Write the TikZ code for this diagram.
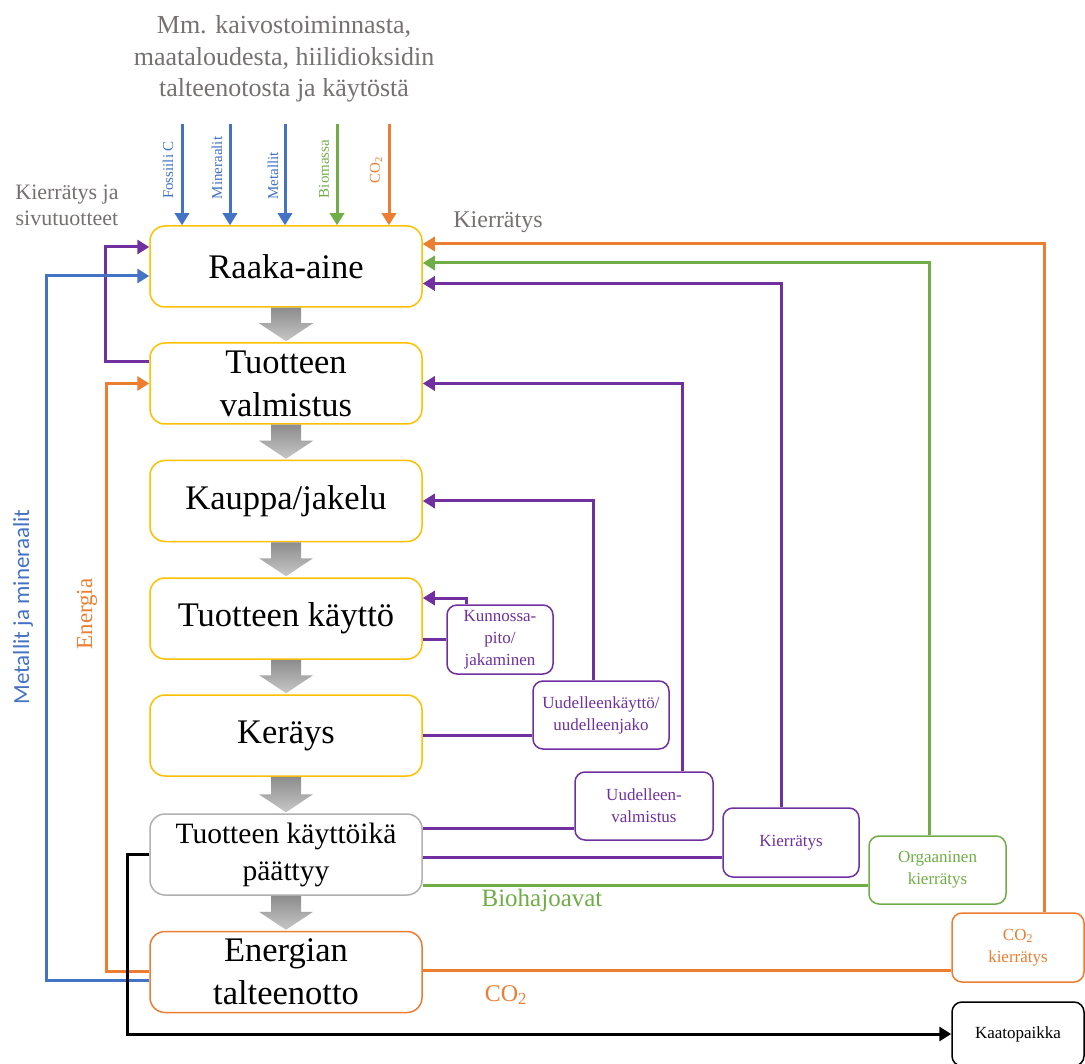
\documentclass[tikz,border=0pt]{standalone}
\usepackage{fontspec}
\setmainfont{Liberation Serif}
\newfontfamily\calibfont{Carlito}
\usetikzlibrary{arrows.meta}

\definecolor{cblue}{HTML}{4472C4}
\definecolor{corange}{HTML}{ED7D31}
\definecolor{cgreen}{HTML}{70AD47}
\definecolor{cpurple}{HTML}{7030A0}
\definecolor{cgold}{HTML}{FFC000}
\definecolor{cgraytext}{HTML}{767171}
\definecolor{cgrayline}{HTML}{B0B0B0}

\tikzset{
  mainbox/.style={draw=cgold, line width=1.5pt, rounded corners=15pt, fill=white,
    minimum width=272pt, minimum height=81pt, align=center, inner sep=0pt,
    font=\fontsize{34.5}{43}\selectfont},
  sidebox/.style={line width=1.5pt, rounded corners=10pt, fill=white,
    align=center, inner sep=0pt, minimum height=69pt,
    font=\fontsize{17}{22}\selectfont},
  flow/.style={line width=3pt},
  tipped/.style={-{Triangle[length=12pt,width=14pt]}},
  inlabel/.style={rotate=90, inner sep=0pt, font=\fontsize{15}{15}\selectfont},
  graytxt/.style={text=cgraytext, align=center, inner sep=0pt},
}

% gray block arrow between two stacked boxes
\newcommand{\downblock}[2]{%
  \shade[top color=black!45, bottom color=black!22]
    ([xshift=-15pt]#1.south) -- ([xshift=15pt]#1.south)
    -- ([xshift=15pt,yshift=19pt]#2.north) -- ([xshift=27pt,yshift=19pt]#2.north)
    -- ([yshift=1pt]#2.north)
    -- ([xshift=-27pt,yshift=19pt]#2.north) -- ([xshift=-15pt,yshift=19pt]#2.north)
    -- cycle;}

\begin{document}
\begin{tikzpicture}[x=1pt,y=-1pt]
\clip (0,0) rectangle (1085,1064);
\fill[white] (0,0) rectangle (1085,1064);

% main chain
\node[mainbox] (raaka) at (286,266.5) {Raaka-aine};
\node[mainbox] (valm) at (286,383.5) {Tuotteen\\valmistus};
\node[mainbox] (kauppa) at (286,501) {Kauppa/jakelu};
\node[mainbox] (kaytto) at (286,618.5) {Tuotteen käyttö};
\node[mainbox] (keray) at (286,735.5) {Keräys};
\node[mainbox, draw=cgrayline, font=\fontsize{29.5}{37}\selectfont] (paat) at (286,854.5) {Tuotteen käyttöikä\\päättyy};
\node[mainbox, draw=corange] (energ) at (286,972) {Energian\\talteenotto};

\downblock{raaka}{valm}
\downblock{valm}{kauppa}
\downblock{kauppa}{kaytto}
\downblock{kaytto}{keray}
\downblock{keray}{paat}
\downblock{paat}{energ}

% side boxes
\node[sidebox, draw=cpurple, text=cpurple, minimum width=106pt] (kp) at (500,639.5) {Kunnossa-\\pito/\\jakaminen};
\node[sidebox, draw=cpurple, text=cpurple, minimum width=136pt, minimum height=68pt] (uk) at (601,715) {Uudelleenkäyttö/\\uudelleenjako};
\node[sidebox, draw=cpurple, text=cpurple, minimum width=138pt, minimum height=68pt] (uv) at (644,806) {Uudelleen-\\valmistus};
\node[sidebox, draw=cpurple, text=cpurple, minimum width=136pt] (kierr) at (791,842.5) {Kierrätys};
\node[sidebox, draw=cgreen, text=cgreen, minimum width=137pt, minimum height=68pt] (org) at (937.5,870) {Orgaaninen\\kierrätys};
\node[sidebox, draw=corange, text=corange, minimum width=132pt] (co2k) at (1018,947.5) {CO\textsubscript{2}\\kierrätys};
\node[sidebox, draw=black, text=black, minimum width=132pt, minimum height=64pt] (kaato) at (1018,1034) {Kaatopaikka};

% source text and inputs
\node[graytxt, font=\fontsize{26}{31.5}\selectfont] (src) at (284,59) {Mm. kaivostoiminnasta,\\maataloudesta, hiilidioksidin\\talteenotosta ja käytöstä};
\node[graytxt, font=\fontsize{22}{26}\selectfont] (sivu) at (67,205) {Kierrätys ja\\sivutuotteet};
\node[graytxt, font=\fontsize{24}{24}\selectfont] (kierrlab) at (498,222) {Kierrätys};

\coordinate (in1) at (182,124);
\coordinate (in2) at (230,124);
\coordinate (in3) at (285,124);
\coordinate (in4) at (337,124);
\coordinate (in5) at (389,124);
\draw[flow, cblue, tipped] (in1) -- (in1 |- raaka.north);
\draw[flow, cblue, tipped] (in2) -- (in2 |- raaka.north);
\draw[flow, cblue, tipped] (in3) -- (in3 |- raaka.north);
\draw[flow, cgreen, tipped] (in4) -- (in4 |- raaka.north);
\draw[flow, corange, tipped] (in5) -- (in5 |- raaka.north);
\node[inlabel, text=cblue] (l1) at (168,170) {Fossiili C};
\node[inlabel, text=cblue] (l2) at (217,168) {Mineraalit};
\node[inlabel, text=cblue] (l3) at (273,176) {Metallit};
\node[inlabel, text=cgreen] (l4) at (324,169) {Biomassa};
\node[inlabel, text=corange] (l5) at (376,170) {CO\textsubscript{2}};

% loops back from the side boxes
\draw[flow, cpurple] ([yshift=-21pt]kaytto.east) -- (kp.west);
\draw[flow, cpurple, tipped] ([xshift=-34pt]kp.north) |- ([yshift=20.5pt]kaytto.east);

\draw[flow, cpurple] (keray.east) -- (keray.east -| uk.west);
\draw[flow, cpurple, tipped] ([xshift=-8pt]uk.north) |- (kauppa.east);

\draw[flow, cpurple] ([yshift=26.5pt]paat.east) -- ([yshift=26.5pt]paat.east -| uv.west);
\draw[flow, cpurple, tipped] ([xshift=38pt]uv.north) |- (valm.east);

\draw[flow, cpurple] ([yshift=-2.5pt]paat.east) -- ([yshift=-2.5pt]paat.east -| kierr.west);
\draw[flow, cpurple, tipped] ([xshift=-10pt]kierr.north) |- ([yshift=-17pt]raaka.east);

\draw[flow, cgreen] ([yshift=-30.5pt]paat.east) -- ([yshift=-30.5pt]paat.east -| org.west);
\draw[flow, cgreen, tipped] ([xshift=-8.5pt]org.north) |- ([yshift=3.5pt]raaka.east);

\draw[flow, corange] ([yshift=1.5pt]energ.east) -- ([yshift=1.5pt]energ.east -| co2k.west);
\draw[flow, corange, tipped] ([xshift=26pt]co2k.north) |- ([yshift=22.5pt]raaka.east);

\node[text=cgreen, inner sep=0pt, font=\fontsize{25}{25}\selectfont] (bio) at (542,900) {Biohajoavat};
\node[text=corange, inner sep=0pt, font=\fontsize{24}{24}\selectfont] (co2lab) at (506,995) {CO\textsubscript{2}};

% left side returns
\draw[flow, cpurple, tipped] ([yshift=21.5pt]valm.west) -- ++(-44,0) |- ([yshift=19.5pt]raaka.west);
\draw[flow, cblue, tipped] ([yshift=-8pt]energ.west) -- ++(-103,0) |- ([yshift=-9.5pt]raaka.west);
\draw[flow, corange, tipped] ([yshift=1pt]energ.west) -- ++(-43,0) |- (valm.west);
\node[rotate=90, text=cblue, inner sep=0pt, font=\calibfont\fontsize{23}{23}\selectfont] (metlab) at (23,607) {Metallit ja mineraalit};
\node[rotate=90, text=corange, inner sep=0pt, font=\fontsize{23}{23}\selectfont] (enlab) at (87,614) {Energia};

% landfill route
\draw[flow, black, tipped] (paat.west) -- ++(-22,0) |- (kaato.west);
\end{tikzpicture}
\end{document}
